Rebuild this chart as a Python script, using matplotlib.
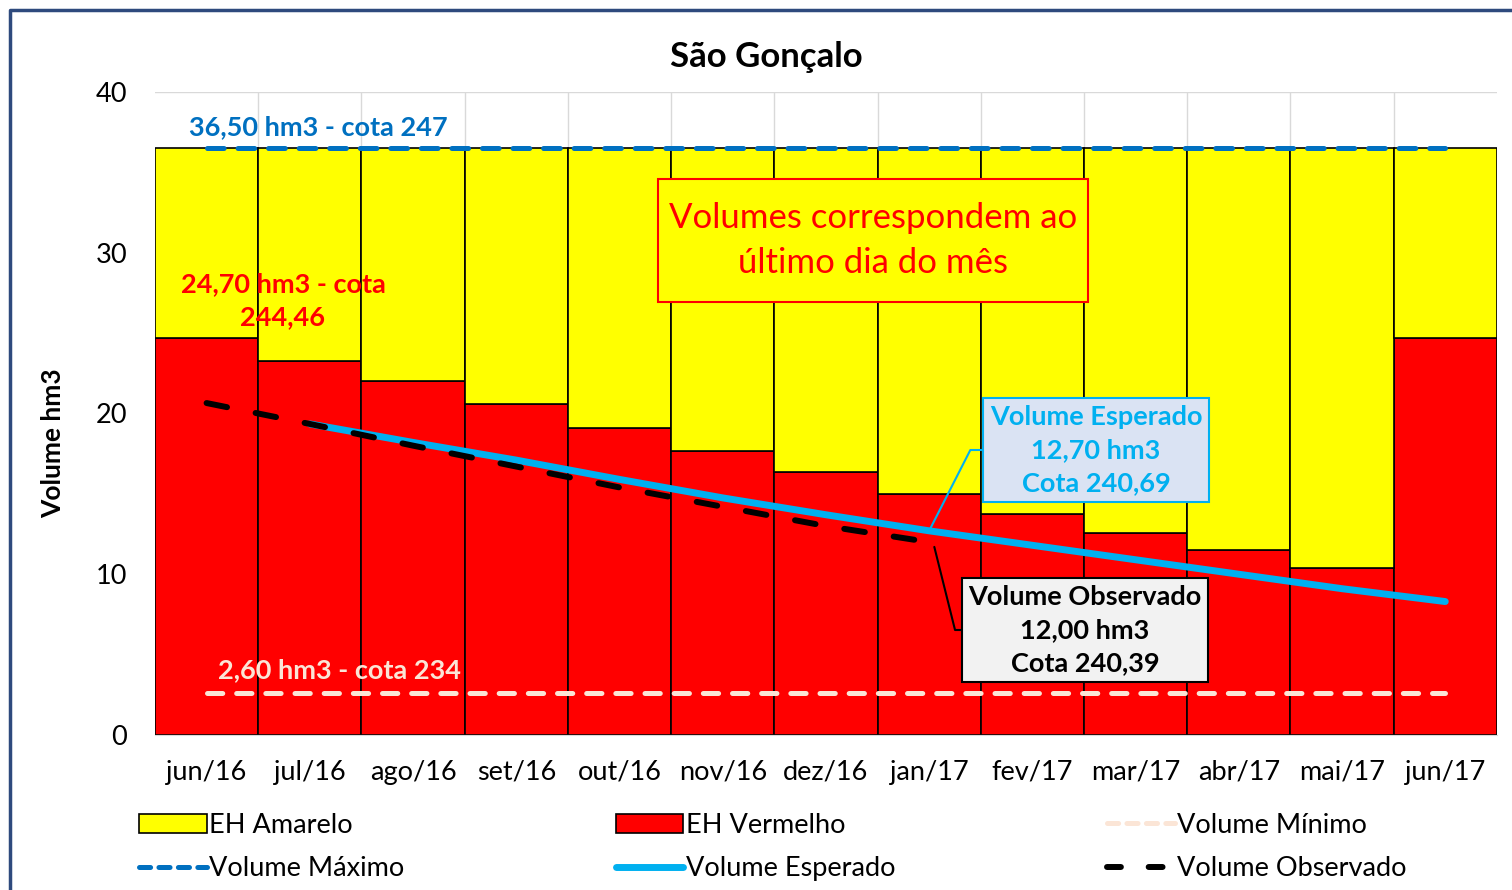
import numpy as np
import matplotlib
matplotlib.use('Agg')
import matplotlib.pyplot as plt
from matplotlib.patches import Patch, Rectangle
from matplotlib.lines import Line2D

plt.rcParams['font.family'] = ['Lato', 'DejaVu Sans']
plt.rcParams['lines.scale_dashes'] = False

# Data (hm3, end of each month)
meses = ['jun/16', 'jul/16', 'ago/16', 'set/16', 'out/16', 'nov/16', 'dez/16',
         'jan/17', 'fev/17', 'mar/17', 'abr/17', 'mai/17', 'jun/17']
eh_vermelho = [24.70, 23.27, 22.02, 20.59, 19.10, 17.67, 16.36,
               14.99, 13.75, 12.57, 11.51, 10.39, 24.70]
eh_amarelo = [11.80, 13.23, 14.48, 15.91, 17.40, 18.83, 20.14,
              21.51, 22.75, 23.93, 24.99, 26.11, 11.80]
volume_maximo = [36.5] * 13
volume_minimo = [2.6] * 13
volume_esperado = [np.nan, 19.35, 18.2, 17.1, 15.9, 14.75, 13.7,
                   12.7, 11.8, 10.9, 10.0, 9.1, 8.3]
volume_observado = [20.65, 19.35, 18.0, 16.7, 15.4, 14.2, 13.0, 12.0,
                    np.nan, np.nan, np.nan, np.nan, np.nan]

AMARELO = '#FFFF00'
VERMELHO = '#FF0000'
AZUL_MAX = '#0070C0'
CIANO = '#00B0F0'
MINIMO = '#FBE5D6'
FS = 19.5

fig = plt.figure(figsize=(15.12, 8.9), dpi=100)
ax = fig.add_axes([0.1025, 0.1742, 0.8875, 0.7224])

x = np.arange(len(meses))
ax.bar(x, eh_vermelho, width=1.0, color=VERMELHO, edgecolor='black', linewidth=1.2, zorder=2)
ax.bar(x, eh_amarelo, width=1.0, bottom=eh_vermelho, color=AMARELO, edgecolor='black',
       linewidth=1.2, zorder=2)

ax.plot(x, volume_minimo, color=MINIMO, lw=3.6, dashes=(11, 10), dash_capstyle='round', zorder=3)
ax.plot(x, volume_maximo, color=AZUL_MAX, lw=3.6, dashes=(12, 10), dash_capstyle='round', zorder=3)
ax.plot(x, volume_esperado, color=CIANO, lw=5, solid_capstyle='round', zorder=4)
ax.plot(x, volume_observado, color='black', lw=4.3, dashes=(15, 21), dash_capstyle='round', zorder=5)

ax.set_xlim(-0.5, len(meses) - 0.5)
ax.set_ylim(0, 40)
ax.set_yticks([0, 10, 20, 30, 40])
ax.set_xticks(x)
ax.set_xticklabels(meses)
ax.set_xticks(x[:-1] + 0.5, minor=True)
ax.tick_params(axis='both', which='both', length=0, labelsize=FS)
ax.tick_params(axis='y', pad=20)
ax.tick_params(axis='x', pad=18)
ax.grid(True, which='major', axis='y', color='#D9D9D9', lw=1, zorder=0)
ax.grid(True, which='minor', axis='x', color='#D9D9D9', lw=1, zorder=0)
for s in ['top', 'right', 'left']:
    ax.spines[s].set_visible(False)
ax.spines['bottom'].set_color('#D9D9D9')

ax.set_ylabel('Volume hm3', fontsize=19, fontweight='bold')
ax.yaxis.set_label_coords(-0.067, 0.454)
fig.text(0.507, 0.936, 'São Gonçalo', ha='center', va='center', fontsize=25, fontweight='bold')

# Reference levels
ax.text(1.08, 37.8, '36,50 hm3 - cota 247', color=AZUL_MAX, fontsize=FS, fontweight='bold',
        ha='center', va='center', zorder=6)
ax.text(0.74, 27.05, '24,70 hm3 - cota\n244,46', color=VERMELHO, fontsize=FS, fontweight='bold',
        ha='center', va='center', linespacing=1.45, zorder=6)
ax.text(1.29, 4.05, '2,60 hm3 - cota 234', color=MINIMO, fontsize=FS, fontweight='bold',
        ha='center', va='center', zorder=6)

# Note box
fig.add_artist(Rectangle((658 / 1512, 1 - 302 / 890), 430 / 1512, 123 / 890,
                         transform=fig.transFigure, fc=AMARELO, ec=VERMELHO, lw=1.5, zorder=7))
fig.text(873 / 1512, 1 - 241 / 890, 'Volumes correspondem ao\núltimo dia do mês',
         color=VERMELHO, fontsize=25, ha='center', va='center', linespacing=1.5, zorder=8)

# Callouts
ax.annotate('Volume Esperado\n12,70 hm3\nCota 240,69', xy=(7, volume_esperado[7]),
            xytext=(1096, 890 - 450), textcoords='figure pixels',
            color=CIANO, fontsize=FS, fontweight='bold', ha='center', va='center', linespacing=1.45,
            bbox=dict(boxstyle='square,pad=0.25', fc='#DAE3F3', ec=CIANO, lw=1.5),
            arrowprops=dict(arrowstyle='-', color=CIANO, lw=1.5, shrinkA=0, shrinkB=0,
                            connectionstyle='angle,angleA=0,angleB=63'), zorder=8)
ax.annotate('Volume Observado\n12,00 hm3\nCota 240,39', xy=(7.05, volume_observado[7] - 0.3),
            xytext=(1085, 890 - 630), textcoords='figure pixels',
            color='black', fontsize=FS, fontweight='bold', ha='center', va='center', linespacing=1.45,
            bbox=dict(boxstyle='square,pad=0.25', fc='#F2F2F2', ec='black', lw=1.5),
            arrowprops=dict(arrowstyle='-', color='black', lw=1.5, shrinkA=0, shrinkB=0,
                            connectionstyle='angle,angleA=0,angleB=-76'), zorder=8)

# Legend (column-wise order)
handles = [
    Patch(fc=AMARELO, ec='black', lw=1.2),
    Line2D([], [], color=AZUL_MAX, lw=3.6, dashes=(8, 6), dash_capstyle='round'),
    Patch(fc=VERMELHO, ec='black', lw=1.2),
    Line2D([], [], color=CIANO, lw=5, solid_capstyle='round'),
    Line2D([], [], color=MINIMO, lw=3.6, dashes=(8, 6), dash_capstyle='round'),
    Line2D([], [], color='black', lw=4.3, dashes=(10, 20), dash_capstyle='round'),
]
labels = ['EH Amarelo', 'Volume Máximo', 'EH Vermelho', 'Volume Esperado',
          'Volume Mínimo', 'Volume Observado']
fig.legend(handles, labels, loc='upper left', bbox_to_anchor=(128 / 1512, 1 - 802 / 890),
           ncol=3, frameon=False, fontsize=FS, handlelength=2.5, handletextpad=0.1,
           columnspacing=7.8, labelspacing=0.68, borderaxespad=0)

# Outer frame
fig.add_artist(Line2D([10 / 1512, 10 / 1512, 1.0], [0, 1 - 10 / 890, 1 - 10 / 890],
                      transform=fig.transFigure, color='#2E4A7D', lw=2.5))

fig.savefig('out.png', dpi=100)
